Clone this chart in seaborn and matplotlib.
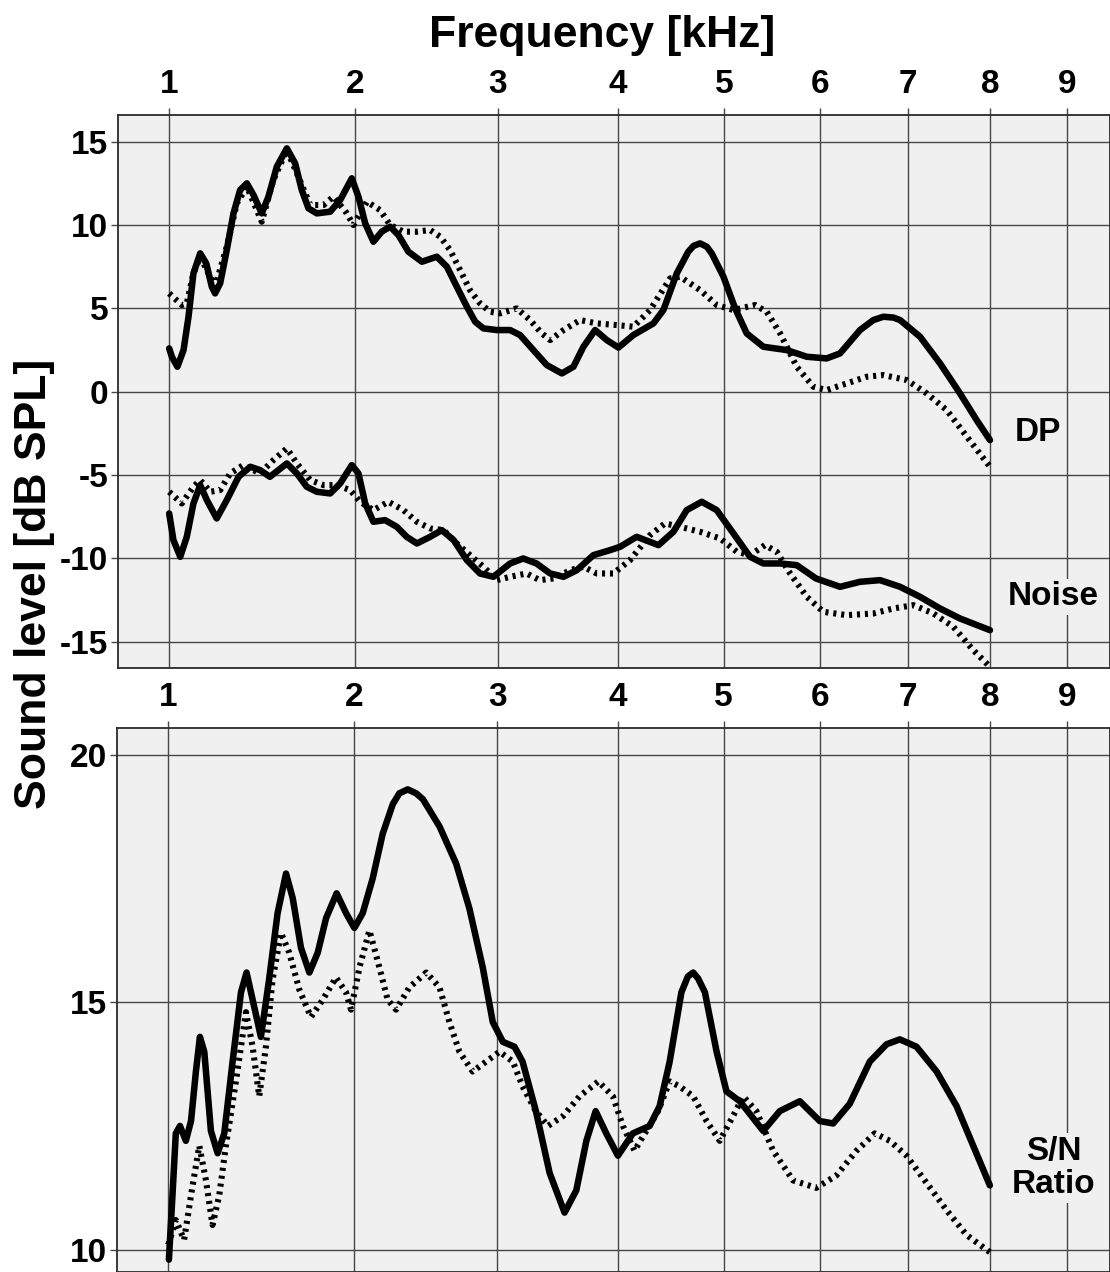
import numpy as np
import pandas as pd
import matplotlib
matplotlib.use("Agg")
import matplotlib.pyplot as plt
from matplotlib.ticker import FixedLocator, NullLocator
import seaborn as sns

# ---------------- data (frequency in kHz, level in dB) ----------------
dp_solid_f = [1.0, 1.012, 1.037, 1.065, 1.088, 1.111, 1.143, 1.172, 1.199, 1.215, 1.240, 1.273, 1.307,
              1.341, 1.376, 1.411, 1.455, 1.491, 1.537, 1.593, 1.640, 1.678, 1.717, 1.766, 1.846, 1.907,
              1.979, 2.021, 2.064, 2.117, 2.171, 2.227, 2.282, 2.350, 2.443, 2.548, 2.620, 2.692, 2.766,
              2.828, 2.890, 2.993, 3.096, 3.174, 3.281, 3.390, 3.515, 3.612, 3.697, 3.798, 3.900, 4.003,
              4.137, 4.321, 4.414, 4.540, 4.650, 4.701, 4.764, 4.829, 4.878, 4.994, 5.111, 5.228, 5.399,
              5.644, 5.858, 6.074, 6.222, 6.446, 6.598, 6.713, 6.829, 6.907, 7.143, 7.383, 7.627, 7.833, 8.0]
dp_solid_v = [2.6, 2.1, 1.5, 2.5, 4.5, 7.1, 8.3, 7.7, 6.3, 5.9, 6.5, 8.5, 10.7,
              12.1, 12.5, 11.8, 10.7, 11.7, 13.5, 14.6, 13.7, 12.1, 11.0, 10.7, 10.8, 11.5,
              12.8, 11.7, 10.1, 9.0, 9.6, 9.9, 9.4, 8.4, 7.8, 8.1, 7.5, 6.3, 5.1,
              4.2, 3.8, 3.7, 3.7, 3.4, 2.5, 1.6, 1.1, 1.5, 2.7, 3.7, 3.1, 2.65,
              3.4, 4.1, 4.9, 7.1, 8.4, 8.75, 8.9, 8.7, 8.3, 6.9, 5.0, 3.5, 2.7,
              2.5, 2.1, 2.0, 2.3, 3.7, 4.3, 4.5, 4.45, 4.3, 3.3, 1.7, -0.1, -1.7, -2.9]

dp_dot_f = [1.0, 1.057, 1.080, 1.111, 1.143, 1.175, 1.215, 1.273, 1.324, 1.376, 1.455, 1.518, 1.593,
            1.650, 1.727, 1.806, 1.866, 1.948, 1.989, 2.075, 2.160, 2.227, 2.316, 2.408, 2.501, 2.572,
            2.643, 2.716, 2.789, 2.864, 2.941, 3.018, 3.148, 3.254, 3.349, 3.418, 3.529, 3.669, 3.812,
            3.988, 4.137, 4.290, 4.477, 4.571, 4.764, 4.928, 5.094, 5.314, 5.434, 5.574, 5.750, 5.929,
            6.074, 6.297, 6.522, 6.713, 6.985, 7.223, 7.464, 7.712, 8.0]
dp_dot_v = [5.9, 5.2, 5.3, 7.1, 8.1, 7.3, 6.3, 8.7, 11.3, 12.3, 10.2, 12.7, 14.5,
            13.1, 11.2, 11.2, 11.7, 10.7, 10.0, 11.4, 10.9, 10.0, 9.6, 9.6, 9.7, 9.3,
            8.5, 7.3, 6.1, 5.3, 4.8, 4.7, 5.0, 4.3, 3.5, 3.1, 3.7, 4.3, 4.1,
            4.0, 3.9, 4.9, 6.8, 6.9, 6.1, 5.2, 4.9, 5.2, 4.8, 3.5, 1.5, 0.3,
            0.1, 0.5, 0.9, 1.0, 0.7, -0.1, -1.1, -2.7, -4.5]

noise_solid_f = [1.0, 1.019, 1.050, 1.080, 1.111, 1.143, 1.175, 1.223, 1.273, 1.333, 1.394, 1.446, 1.499,
                 1.546, 1.593, 1.650, 1.707, 1.766, 1.846, 1.907, 1.979, 2.021, 2.064, 2.117, 2.193, 2.271,
                 2.338, 2.408, 2.501, 2.584, 2.669, 2.766, 2.864, 2.966, 3.096, 3.199, 3.306, 3.418, 3.529,
                 3.641, 3.783, 3.929, 4.018, 4.167, 4.368, 4.508, 4.635, 4.780, 4.927, 5.094, 5.262, 5.399,
                 5.574, 5.750, 5.958, 6.222, 6.446, 6.675, 6.907, 7.143, 7.383, 7.627, 8.0]
noise_solid_v = [-7.3, -8.9, -9.9, -8.7, -6.7, -5.6, -6.5, -7.6, -6.5, -5.1, -4.5, -4.7, -5.1,
                 -4.7, -4.3, -4.9, -5.7, -6.0, -6.1, -5.5, -4.4, -4.9, -6.7, -7.8, -7.7, -8.1,
                 -8.7, -9.1, -8.7, -8.3, -8.9, -10.1, -10.9, -11.1, -10.3, -10.0, -10.3, -10.9, -11.1,
                 -10.7, -9.8, -9.5, -9.3, -8.7, -9.2, -8.4, -7.1, -6.6, -7.1, -8.5, -9.9, -10.3,
                 -10.3, -10.4, -11.2, -11.7, -11.4, -11.3, -11.7, -12.3, -13.0, -13.6, -14.3]

noise_dot_f = [1.0, 1.057, 1.111, 1.143, 1.191, 1.240, 1.290, 1.358, 1.446, 1.518, 1.593, 1.650, 1.727,
               1.806, 1.886, 1.969, 2.032, 2.117, 2.215, 2.316, 2.408, 2.501, 2.596, 2.692, 2.789, 2.890,
               2.993, 3.096, 3.226, 3.333, 3.445, 3.586, 3.697, 3.812, 3.958, 4.107, 4.290, 4.429, 4.571,
               4.764, 4.961, 5.128, 5.262, 5.416, 5.539, 5.680, 5.858, 6.038, 6.297, 6.598, 6.829, 7.064,
               7.303, 7.545, 7.792, 8.0]
noise_dot_v = [-6.0, -6.7, -5.7, -5.3, -6.0, -5.9, -4.9, -4.4, -4.9, -4.1, -3.4, -4.3, -5.3,
               -5.6, -5.6, -5.9, -6.6, -7.1, -6.6, -7.1, -7.8, -8.2, -8.3, -9.1, -9.8, -10.5,
               -11.3, -11.1, -10.9, -11.3, -11.2, -10.7, -10.5, -10.9, -10.9, -10.1, -8.6, -7.9, -8.1,
               -8.4, -8.8, -9.6, -9.8, -9.2, -9.6, -10.9, -12.3, -13.2, -13.4, -13.3, -13.0, -12.8,
               -13.3, -14.1, -15.5, -16.5]

sn_solid_f = [1.003, 1.019, 1.034, 1.053, 1.080, 1.104, 1.127, 1.146, 1.167, 1.199, 1.232, 1.265, 1.307,
              1.350, 1.379, 1.411, 1.455, 1.499, 1.546, 1.593, 1.631, 1.678, 1.727, 1.776, 1.826, 1.890,
              1.948, 2.0, 2.053, 2.117, 2.182, 2.249, 2.293, 2.350, 2.408, 2.455, 2.572, 2.692, 2.789,
              2.890, 2.966, 3.044, 3.135, 3.199, 3.306, 3.418, 3.542, 3.641, 3.727, 3.807, 3.900, 4.003,
              4.137, 4.290, 4.383, 4.477, 4.588, 4.650, 4.701, 4.749, 4.815, 4.930, 5.028, 5.162, 5.281,
              5.401, 5.574, 5.786, 6.002, 6.149, 6.334, 6.560, 6.752, 6.907, 7.104, 7.344, 7.587, 7.792, 8.0]
sn_solid_v = [9.8, 11.1, 12.35, 12.5, 12.2, 12.6, 13.6, 14.3, 14.0, 12.4, 11.95, 12.35, 13.8,
              15.2, 15.6, 15.05, 14.3, 15.45, 16.8, 17.6, 17.1, 16.1, 15.6, 16.0, 16.7, 17.2,
              16.8, 16.5, 16.8, 17.5, 18.4, 19.0, 19.22, 19.3, 19.22, 19.1, 18.55, 17.8, 16.9,
              15.7, 14.6, 14.2, 14.1, 13.8, 12.8, 11.55, 10.75, 11.2, 12.2, 12.8, 12.35, 11.9,
              12.35, 12.5, 12.9, 13.8, 15.2, 15.52, 15.6, 15.48, 15.2, 14.0, 13.2, 13.0, 12.7,
              12.4, 12.8, 13.0, 12.6, 12.55, 12.95, 13.8, 14.15, 14.25, 14.1, 13.6, 12.9, 12.1, 11.3]

sn_dot_f = [1.0, 1.034, 1.072, 1.104, 1.143, 1.175, 1.207, 1.240, 1.273, 1.324, 1.376, 1.411, 1.446,
            1.482, 1.518, 1.565, 1.611, 1.669, 1.736, 1.806, 1.886, 1.948, 1.979, 2.032, 2.096, 2.161,
            2.215, 2.271, 2.361, 2.478, 2.572, 2.643, 2.716, 2.814, 2.915, 3.018, 3.122, 3.199, 3.306,
            3.404, 3.529, 3.669, 3.830, 3.958, 4.048, 4.152, 4.259, 4.368, 4.477, 4.571, 4.701, 4.831,
            4.961, 5.094, 5.196, 5.331, 5.504, 5.715, 5.965, 6.185, 6.409, 6.617, 6.790, 6.985, 7.223,
            7.464, 7.708, 8.0]
sn_dot_v = [10.1, 10.6, 10.2, 11.1, 12.1, 11.4, 10.5, 11.1, 12.1, 13.4, 14.8, 14.1, 13.1,
            14.1, 15.45, 16.4, 16.0, 15.25, 14.7, 15.05, 15.5, 15.2, 14.85, 15.7, 16.45, 15.7,
            15.05, 14.85, 15.3, 15.6, 15.3, 14.6, 14.0, 13.6, 13.8, 14.0, 13.8, 13.3, 12.8,
            12.5, 12.7, 13.1, 13.4, 13.1, 12.5, 12.0, 12.4, 12.8, 13.4, 13.3, 13.1, 12.6,
            12.2, 12.7, 13.1, 12.8, 12.0, 11.4, 11.25, 11.5, 12.0, 12.35, 12.2, 11.9, 11.35,
            10.8, 10.3, 9.95]

freq_ticks = [1, 2, 3, 4, 5, 6, 7, 8, 9]
top_yticks = [-15, -10, -5, 0, 5, 10, 15]
bot_yticks = [10, 15, 20]

# ---------------- style ----------------
sns.set_theme(style="whitegrid")
BG = "#f0f0f0"
GRID = "#474747"
plt.rcParams["font.family"] = ["Liberation Sans", "DejaVu Sans"]
plt.rcParams["font.weight"] = "bold"
plt.rcParams["text.color"] = "black"
plt.rcParams["axes.labelcolor"] = "black"
plt.rcParams["xtick.labelcolor"] = "black"
plt.rcParams["ytick.labelcolor"] = "black"

fig = plt.figure(figsize=(11.1, 12.72), dpi=100)
W, H = 1110.0, 1272.0
ax1 = fig.add_axes([118 / W, 1 - 668 / H, (W - 118) / W, (668 - 115) / H])
ax2 = fig.add_axes([117 / W, 0.0, (W - 117) / W, (H - 728) / H])

fwd = lambda x: np.sqrt(np.maximum(x, 0))
inv = lambda x: np.square(x)

SOLID_LW = 4.7
DOT_LW = 4.4
DOT_LS = (0, (0.5, 0.8))


def draw(ax, f, v, dotted):
    df = pd.DataFrame({"f": f, "v": v})
    if dotted:
        sns.lineplot(data=df, x="f", y="v", ax=ax, color="black", linewidth=DOT_LW,
                     linestyle=DOT_LS, estimator=None, sort=False, zorder=3)
    else:
        sns.lineplot(data=df, x="f", y="v", ax=ax, color="black", linewidth=SOLID_LW,
                     estimator=None, sort=False, zorder=4, solid_capstyle="round",
                     solid_joinstyle="round")


draw(ax1, dp_dot_f, dp_dot_v, True)
draw(ax1, dp_solid_f, dp_solid_v, False)
draw(ax1, noise_dot_f, noise_dot_v, True)
draw(ax1, noise_solid_f, noise_solid_v, False)
draw(ax2, sn_dot_f, sn_dot_v, True)
draw(ax2, sn_solid_f, sn_solid_v, False)

for ax, yt, ylim in [(ax1, top_yticks, (-16.57, 16.6)), (ax2, bot_yticks, (9.55, 20.54))]:
    ax.set_xscale("function", functions=(fwd, inv))
    ax.set_xlim(0.785, 9.584)
    ax.set_ylim(*ylim)
    ax.set_facecolor(BG)
    ax.xaxis.set_major_locator(FixedLocator(freq_ticks))
    ax.xaxis.set_minor_locator(NullLocator())
    ax.set_xticklabels([str(t) for t in freq_ticks])
    ax.yaxis.set_major_locator(FixedLocator(yt))
    ax.yaxis.set_minor_locator(NullLocator())
    ax.set_yticklabels([str(t) for t in yt])
    ax.grid(True, color=GRID, linewidth=1.0)
    ax.set_axisbelow(True)
    ax.set_xlabel("")
    ax.set_ylabel("")
    ax.tick_params(axis="x", which="major", top=True, labeltop=True, bottom=False,
                   labelbottom=False, direction="out", length=5, width=1.0, color=GRID,
                   pad=6, labelsize=24, labelcolor="black")
    ax.tick_params(axis="y", which="major", left=True, labelleft=True, direction="out",
                   length=5, width=1.0, color=GRID, pad=2, labelsize=24, labelcolor="black")
    for lab in ax.get_xticklabels() + ax.get_yticklabels():
        lab.set_fontweight("bold")
        lab.set_color("black")
    for s in ax.spines.values():
        s.set_color("#2a2a2a")
        s.set_linewidth(1.3)
        s.set_visible(True)

box = dict(facecolor=BG, edgecolor="none", pad=2)
ax1.text(8.62, -2.42, "DP", fontsize=24, fontweight="bold", ha="center", va="center",
         color="black", bbox=box, zorder=5)
ax1.text(8.814, -12.3, "Noise", fontsize=24, fontweight="bold", ha="center", va="center",
         color="black", bbox=box, zorder=5)
ax2.text(8.827, 11.65, "S/N\nRatio", fontsize=24, fontweight="bold", ha="center", va="center",
         multialignment="center", linespacing=1.1, color="black", bbox=box, zorder=5)

fig.text(602 / W, 1 - 35 / H, "Frequency [kHz]", fontsize=32, fontweight="bold",
         ha="center", va="center", color="black")
fig.text(35 / W, 1 - 584 / H, "Sound level [dB SPL]", fontsize=32, fontweight="bold",
         ha="center", va="center", rotation=90, color="black")

fig.savefig("out.png", dpi=100, facecolor="white")
